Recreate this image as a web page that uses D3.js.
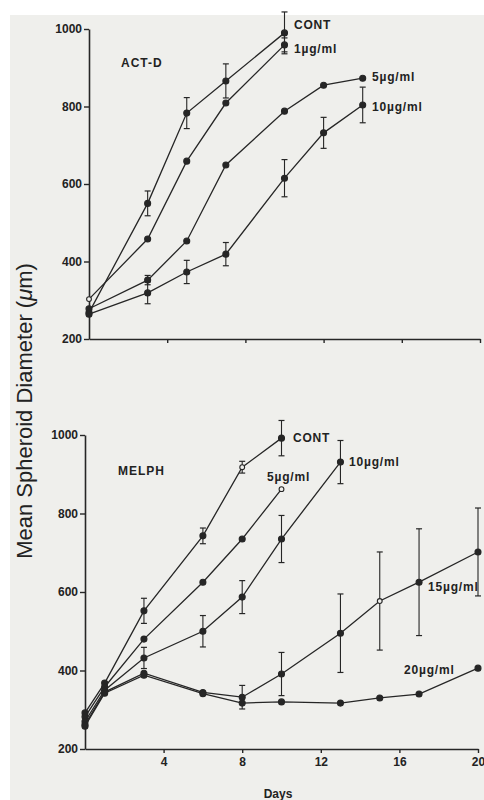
<!DOCTYPE html>
<html>
<head>
<meta charset="utf-8">
<script src="https://cdn.jsdelivr.net/npm/d3@7"></script>
<style>
  body { margin: 0; background: #fff; }
  svg { display: block; }
  .tick text { font-family: "Liberation Sans", Arial, sans-serif; font-weight: bold; font-size: 12px; fill: #222; }
</style>
</head>
<body>
<svg id="chart"></svg>
<script>
// ---- ACT-D panel (top) ----
const actContDays = [0, 3, 5, 7, 10]
const actCont = [268, 550, 783, 866, 990]
const actContErr = [0, 32, 40, 44, 54]
const act1Days = [0, 3, 5, 7, 10]
const act1 = [303, 458, 659, 809, 959]
const act1Err = [0, 0, 0, 0, 18]
const act5Days = [0, 3, 5, 7, 10, 12, 14]
const act5 = [278, 352, 453, 649, 788, 855, 873]
const act5Err = [0, 12, 0, 0, 0, 0, 0]
const act10Days = [0, 3, 5, 7, 10, 12, 14]
const act10 = [264, 319, 373, 419, 615, 732, 804]
const act10Err = [0, 28, 30, 30, 48, 40, 46]

// ---- MELPH panel (bottom) ----
const melContDays = [0, 1, 3, 6, 8, 10]
const melCont = [292, 368, 552, 743, 918, 992]
const melContErr = [0, 0, 32, 20, 15, 45]
const mel5Days = [0, 1, 3, 6, 8, 10]
const mel5 = [282, 358, 480, 625, 735, 862]
const mel10Days = [0, 1, 3, 6, 8, 10, 13]
const mel10 = [270, 350, 432, 500, 587, 735, 931]
const mel10Err = [0, 0, 27, 40, 42, 60, 55]
const mel15Days = [0, 1, 3, 6, 8, 10, 13, 15, 17, 20]
const mel15 = [262, 345, 393, 344, 332, 391, 495, 577, 625, 702]
const mel15Err = [0, 0, 0, 0, 30, 55, 100, 125, 136, 112]
const mel20Days = [0, 1, 3, 6, 8, 10, 13, 15, 17, 20]
const mel20 = [258, 342, 388, 341, 317, 320, 317, 330, 340, 406]

const yTicks = [200, 400, 600, 800, 1000]
const xTicks = [4, 8, 12, 16, 20]

const svg = d3.select('#chart').attr('width', 484).attr('height', 800)
const ink = '#262626'
const font = '"Liberation Sans", Arial, sans-serif'

// paper background
svg.append('rect').attr('x', 10).attr('y', 15).attr('width', 474).attr('height', 785).attr('fill', '#efefec')

const panels = [
  { title: 'ACT-D', titlePos: [121, 67], x0: 89, x1: 480, yTop: 29, yBot: 339, xLabels: false,
    series: [
      { name: 'CONT', days: actContDays, vals: actCont, err: actContErr, open: [], label: [294, 29] },
      { name: '1µg/ml', days: act1Days, vals: act1, err: act1Err, open: [0], label: [294, 53] },
      { name: '5µg/ml', days: act5Days, vals: act5, err: act5Err, open: [], label: [372, 81] },
      { name: '10µg/ml', days: act10Days, vals: act10, err: act10Err, open: [], label: [372, 111] }
    ] },
  { title: 'MELPH', titlePos: [118, 475], x0: 85, x1: 478, yTop: 435, yBot: 749, xLabels: true,
    series: [
      { name: 'CONT', days: melContDays, vals: melCont, err: melContErr, open: [4], label: [293, 442] },
      { name: '5µg/ml', days: mel5Days, vals: mel5, err: null, open: [5], label: [267, 481] },
      { name: '10µg/ml', days: mel10Days, vals: mel10, err: mel10Err, open: [], label: [349, 466] },
      { name: '15µg/ml', days: mel15Days, vals: mel15, err: mel15Err, open: [7], label: [428, 591] },
      { name: '20µg/ml', days: mel20Days, vals: mel20, err: null, open: [], label: [404, 674] }
    ] }
]

panels.forEach(p => {
  const x = d3.scaleLinear().domain([0, 20]).range([p.x0, p.x1])
  const y = d3.scaleLinear().domain([200, 1000]).range([p.yBot, p.yTop])
  const g = svg.append('g')

  g.append('g').attr('transform', `translate(${p.x0},0)`)
    .call(d3.axisLeft(y).tickValues(yTicks).tickSize(5).tickSizeOuter(0).tickPadding(2)
      .tickFormat(d3.format('d')))
  g.append('g').attr('transform', `translate(0,${p.yBot})`)
    .call(d3.axisBottom(x).tickValues(xTicks).tickSize(4).tickSizeOuter(0).tickPadding(4)
      .tickFormat(p.xLabels ? d3.format('d') : ''))
  g.selectAll('.domain').attr('stroke', ink).attr('stroke-width', 1.6)
  g.selectAll('.tick line').attr('stroke', ink).attr('stroke-width', 1.4)

  const line = d3.line().x(d => x(d[0])).y(d => y(d[1]))

  p.series.forEach(s => {
    const pts = s.days.map((d, i) => [d, s.vals[i], s.err ? s.err[i] : 0])
    g.append('path').datum(pts).attr('d', line)
      .attr('fill', 'none').attr('stroke', ink).attr('stroke-width', 1.3)

    // error bars
    pts.filter(d => d[2] > 0).forEach(d => {
      const cx = x(d[0]), t = y(d[1] + d[2]), b = y(d[1] - d[2])
      g.append('line').attr('x1', cx).attr('x2', cx).attr('y1', t).attr('y2', b)
        .attr('stroke', ink).attr('stroke-width', 1.1)
      ;[t, b].forEach(yy => g.append('line').attr('x1', cx - 3).attr('x2', cx + 3)
        .attr('y1', yy).attr('y2', yy).attr('stroke', ink).attr('stroke-width', 1.2))
    })

    g.selectAll(null).data(pts).enter().append('circle')
      .attr('cx', d => x(d[0])).attr('cy', d => y(d[1]))
      .attr('r', (d, i) => s.open.includes(i) ? 2.4 : 3)
      .attr('fill', (d, i) => s.open.includes(i) ? '#efefec' : ink)
      .attr('stroke', ink).attr('stroke-width', 1.1)

    g.append('text').attr('x', s.label[0]).attr('y', s.label[1])
      .attr('font-family', font).attr('font-weight', 'bold')
      .attr('font-size', 12).attr('letter-spacing', 0.8).attr('fill', '#222')
      .text(s.name)
  })

  g.append('text').attr('x', p.titlePos[0]).attr('y', p.titlePos[1])
    .attr('font-family', font).attr('font-weight', 'bold')
    .attr('font-size', 12).attr('letter-spacing', 1).attr('fill', '#222')
    .text(p.title)
})

// axis titles
const yt = svg.append('text').attr('transform', 'translate(32,411) rotate(-90)')
  .attr('text-anchor', 'middle')
  .attr('font-family', font).attr('font-size', 22).attr('fill', '#222')
yt.append('tspan').text('Mean Spheroid Diameter (')
yt.append('tspan').attr('font-style', 'italic').text('μ')
yt.append('tspan').text('m)')

svg.append('text').attr('x', 278).attr('y', 798).attr('text-anchor', 'middle')
  .attr('font-family', font).attr('font-weight', 'bold')
  .attr('font-size', 12).attr('fill', '#222')
  .text('Days')
</script>
</body>
</html>
